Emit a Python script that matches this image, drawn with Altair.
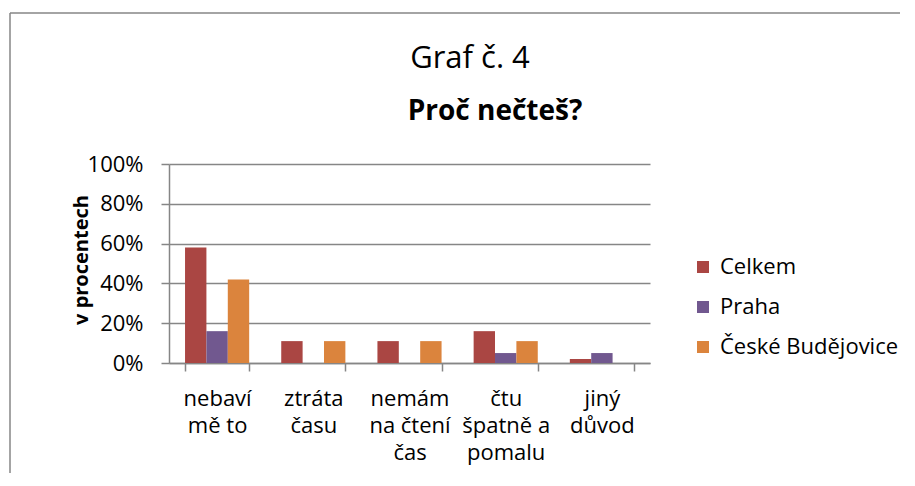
import altair as alt
import pandas as pd

categories = ["nebaví mě to", "ztráta času", "nemám na čtení čas", "čtu špatně a pomalu", "jiný důvod"]
label_lines = [["nebaví", "mě to"], ["ztráta", "času"], ["nemám", "na čtení", "čas"],
               ["čtu", "špatně a", "pomalu"], ["jiný", "důvod"]]
series = ["Celkem", "Praha", "České Budějovice"]
celkem = [0.58, 0.11, 0.11, 0.16, 0.02]
praha = [0.16, 0.0, 0.0, 0.05, 0.05]
budejovice = [0.42, 0.11, 0.11, 0.11, 0.0]
colors = ["#AA4643", "#71588F", "#DB843D"]
y_ticks = [0, 0.2, 0.4, 0.6, 0.8, 1.0]
title_lines = ["Graf č. 4", "Proč nečteš?"]
y_title = "v procentech"

rows = []
for s, vals in zip(series, [celkem, praha, budejovice]):
    for c, v in zip(categories, vals):
        rows.append({"kategorie": c, "rada": s, "hodnota": v})
df = pd.DataFrame(rows)

# multi-line label expression
expr = "''"
for c, lines in reversed(list(zip(categories, label_lines))):
    arr = "[" + ",".join("'" + l + "'" for l in lines) + "]"
    expr = f"datum.label == '{c}' ? {arr} : ({expr})"

W, H = 481, 199
GRAY = "#868686"

bars = alt.Chart(df).mark_bar().encode(
    x=alt.X("kategorie:N", sort=categories,
            scale=alt.Scale(paddingInner=0.3333, paddingOuter=0.1667),
            axis=alt.Axis(title=None, labelExpr=expr, labelAngle=0, tickBand="extent",
                          tickSize=8, tickColor=GRAY, tickWidth=1.5,
                          domainColor=GRAY, domainWidth=1.5,
                          labelBaseline="top", labelPadding=17, labelLineHeight=27,
                          labelFontSize=22, labelColor="#000000", labelBound=False,
                          labelOverlap=False, grid=False)),
    xOffset=alt.XOffset("rada:N", sort=series),
    y=alt.Y("hodnota:Q", scale=alt.Scale(domain=[0, 1]),
            axis=alt.Axis(values=y_ticks, format=".0%", grid=True, gridColor=GRAY, gridWidth=1.5,
                          tickSize=8, tickColor=GRAY, tickWidth=1.5,
                          domainColor=GRAY, domainWidth=1.5,
                          labelPadding=18, labelFontSize=22, labelColor="#000000",
                          labelFlush=False, labelOverlap=False,
                          title=y_title, titleFontSize=20, titleFontWeight="bold",
                          titleColor="#000000", titleAngle=270, titleX=-88, titleY=H / 2 - 4,
                          titleAlign="center", titleBaseline="middle")),
    color=alt.Color("rada:N", sort=series,
                    scale=alt.Scale(domain=series, range=colors),
                    legend=alt.Legend(title=None, orient="none", legendX=523, legendY=92,
                                      direction="vertical", symbolType="square", symbolSize=144,
                                      symbolStrokeWidth=0, labelFontSize=22, labelColor="#000000",
                                      rowPadding=18, labelOffset=6, labelLimit=0)),
)

t1 = alt.Chart(pd.DataFrame({"t": [title_lines[0]]})).mark_text(
    fontSize=31, color="#000000", align="center", baseline="alphabetic"
).encode(text="t:N", x=alt.value(301), y=alt.value(-96))

t2 = alt.Chart(pd.DataFrame({"t": [title_lines[1]]})).mark_text(
    fontSize=28, fontWeight="bold", color="#000000", align="center", baseline="alphabetic"
).encode(text="t:N", x=alt.value(326), y=alt.value(-44))

border_v = alt.Chart(pd.DataFrame({"a": [0]})).mark_rule(color=GRAY, strokeWidth=1.5).encode(
    x=alt.value(-159), y=alt.value(-151), y2=alt.value(H + 120))
border_h = alt.Chart(pd.DataFrame({"a": [0]})).mark_rule(color=GRAY, strokeWidth=1.5).encode(
    x=alt.value(-159), x2=alt.value(W + 260), y=alt.value(-151))

chart = alt.layer(bars, t1, t2, border_v, border_h).properties(
    width=W, height=H,
    autosize=alt.AutoSizeParams(type="none"),
    padding={"left": 161, "top": 156, "right": 250, "bottom": 110},
).configure(font="Open Sans").configure_view(stroke=None)

chart.save("out.html", embed_options={"renderer": "svg", "actions": False})
